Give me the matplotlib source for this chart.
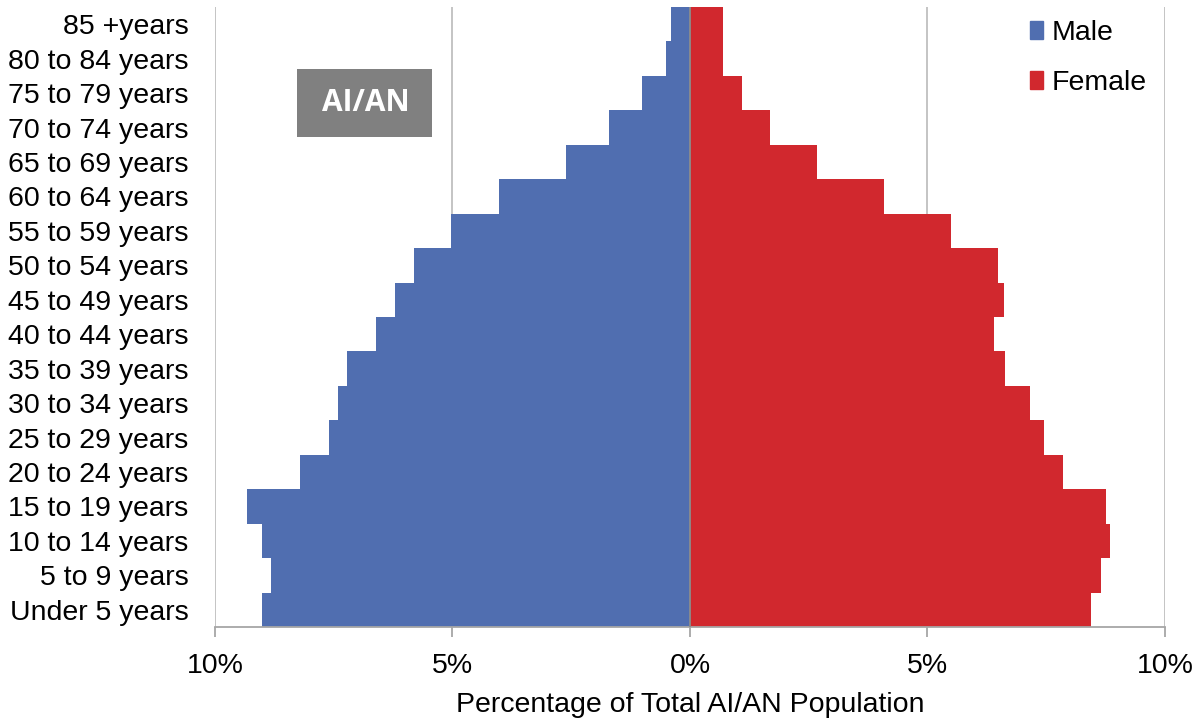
import numpy as np
import matplotlib.pyplot as plt
from matplotlib.patches import Patch, Rectangle

plt.rcParams['font.family'] = ['Liberation Sans', 'DejaVu Sans']

# age groups, bottom to top
ages = ["Under 5 years", "5 to 9 years", "10 to 14 years", "15 to 19 years",
        "20 to 24 years", "25 to 29 years", "30 to 34 years", "35 to 39 years",
        "40 to 44 years", "45 to 49 years", "50 to 54 years", "55 to 59 years",
        "60 to 64 years", "65 to 69 years", "70 to 74 years", "75 to 79 years",
        "80 to 84 years", "85 +years"]
male = [9.02, 8.83, 9.02, 9.32, 8.21, 7.61, 7.42, 7.22, 6.6, 6.2, 5.81, 5.03,
        4.02, 2.61, 1.71, 1.0, 0.5, 0.41]
female = [8.44, 8.65, 8.85, 8.75, 7.85, 7.45, 7.15, 6.64, 6.4, 6.6, 6.48, 5.49,
          4.09, 2.68, 1.69, 1.09, 0.69, 0.69]
xticks = [-10, -5, 0, 5, 10]
xticklabels = ["10%", "5%", "0%", "5%", "10%"]

blue = "#506EB0"
red = "#D1282E"
fs = 20.5

fig = plt.figure(figsize=(11.95, 7.21), dpi=100)
ax = fig.add_axes([0.1799, 0.1304, 0.795, 0.8599])

y = np.arange(len(ages))
ax.barh(y, -np.array(male), height=1.0, color=blue, zorder=2)
ax.barh(y, female, height=1.0, color=red, zorder=2)

ax.set_xlim(-10, 10)
ax.set_ylim(-0.5, len(ages) - 0.5)
for v in xticks:
    ax.axvline(v, color="#BFBFBF", lw=1.3, zorder=1)
ax.axvline(0, color="#8C8C8C", lw=1.3, zorder=3)

ax.set_xticks(xticks)
ax.set_xticklabels(xticklabels, fontsize=fs)
ax.set_yticks(y)
ax.set_yticklabels(ages, fontsize=fs)
ax.tick_params(axis="y", length=0, pad=19)
ax.tick_params(axis="x", length=7, color="#A6A6A6", width=1.3, pad=12)
for s in ["top", "right", "left"]:
    ax.spines[s].set_visible(False)
ax.spines["bottom"].set_color("#A6A6A6")
ax.spines["bottom"].set_linewidth(1.3)
ax.set_xlabel("Percentage of Total AI/AN Population", fontsize=fs, labelpad=9)

# AI/AN label box
fig.patches.append(Rectangle((297 / 1195, 1 - 137 / 721), 135 / 1195, 68 / 721,
                             transform=fig.transFigure, fc="#808080", ec="none"))
fig.text(366 / 1195, 1 - 103 / 721, "AI/AN", color="white", fontsize=21.5,
         fontweight="bold", family="Open Sans", ha="center", va="center")

handles = [Patch(color=blue, label="Male"), Patch(color=red, label="Female")]
ax.legend(handles=handles, loc="upper left", bbox_to_anchor=(0.831, 1.02),
          frameon=False, fontsize=fs, handlelength=0.45, handleheight=0.6,
          handletextpad=0.3, labelspacing=0.83)

fig.savefig("out.png", dpi=100)
